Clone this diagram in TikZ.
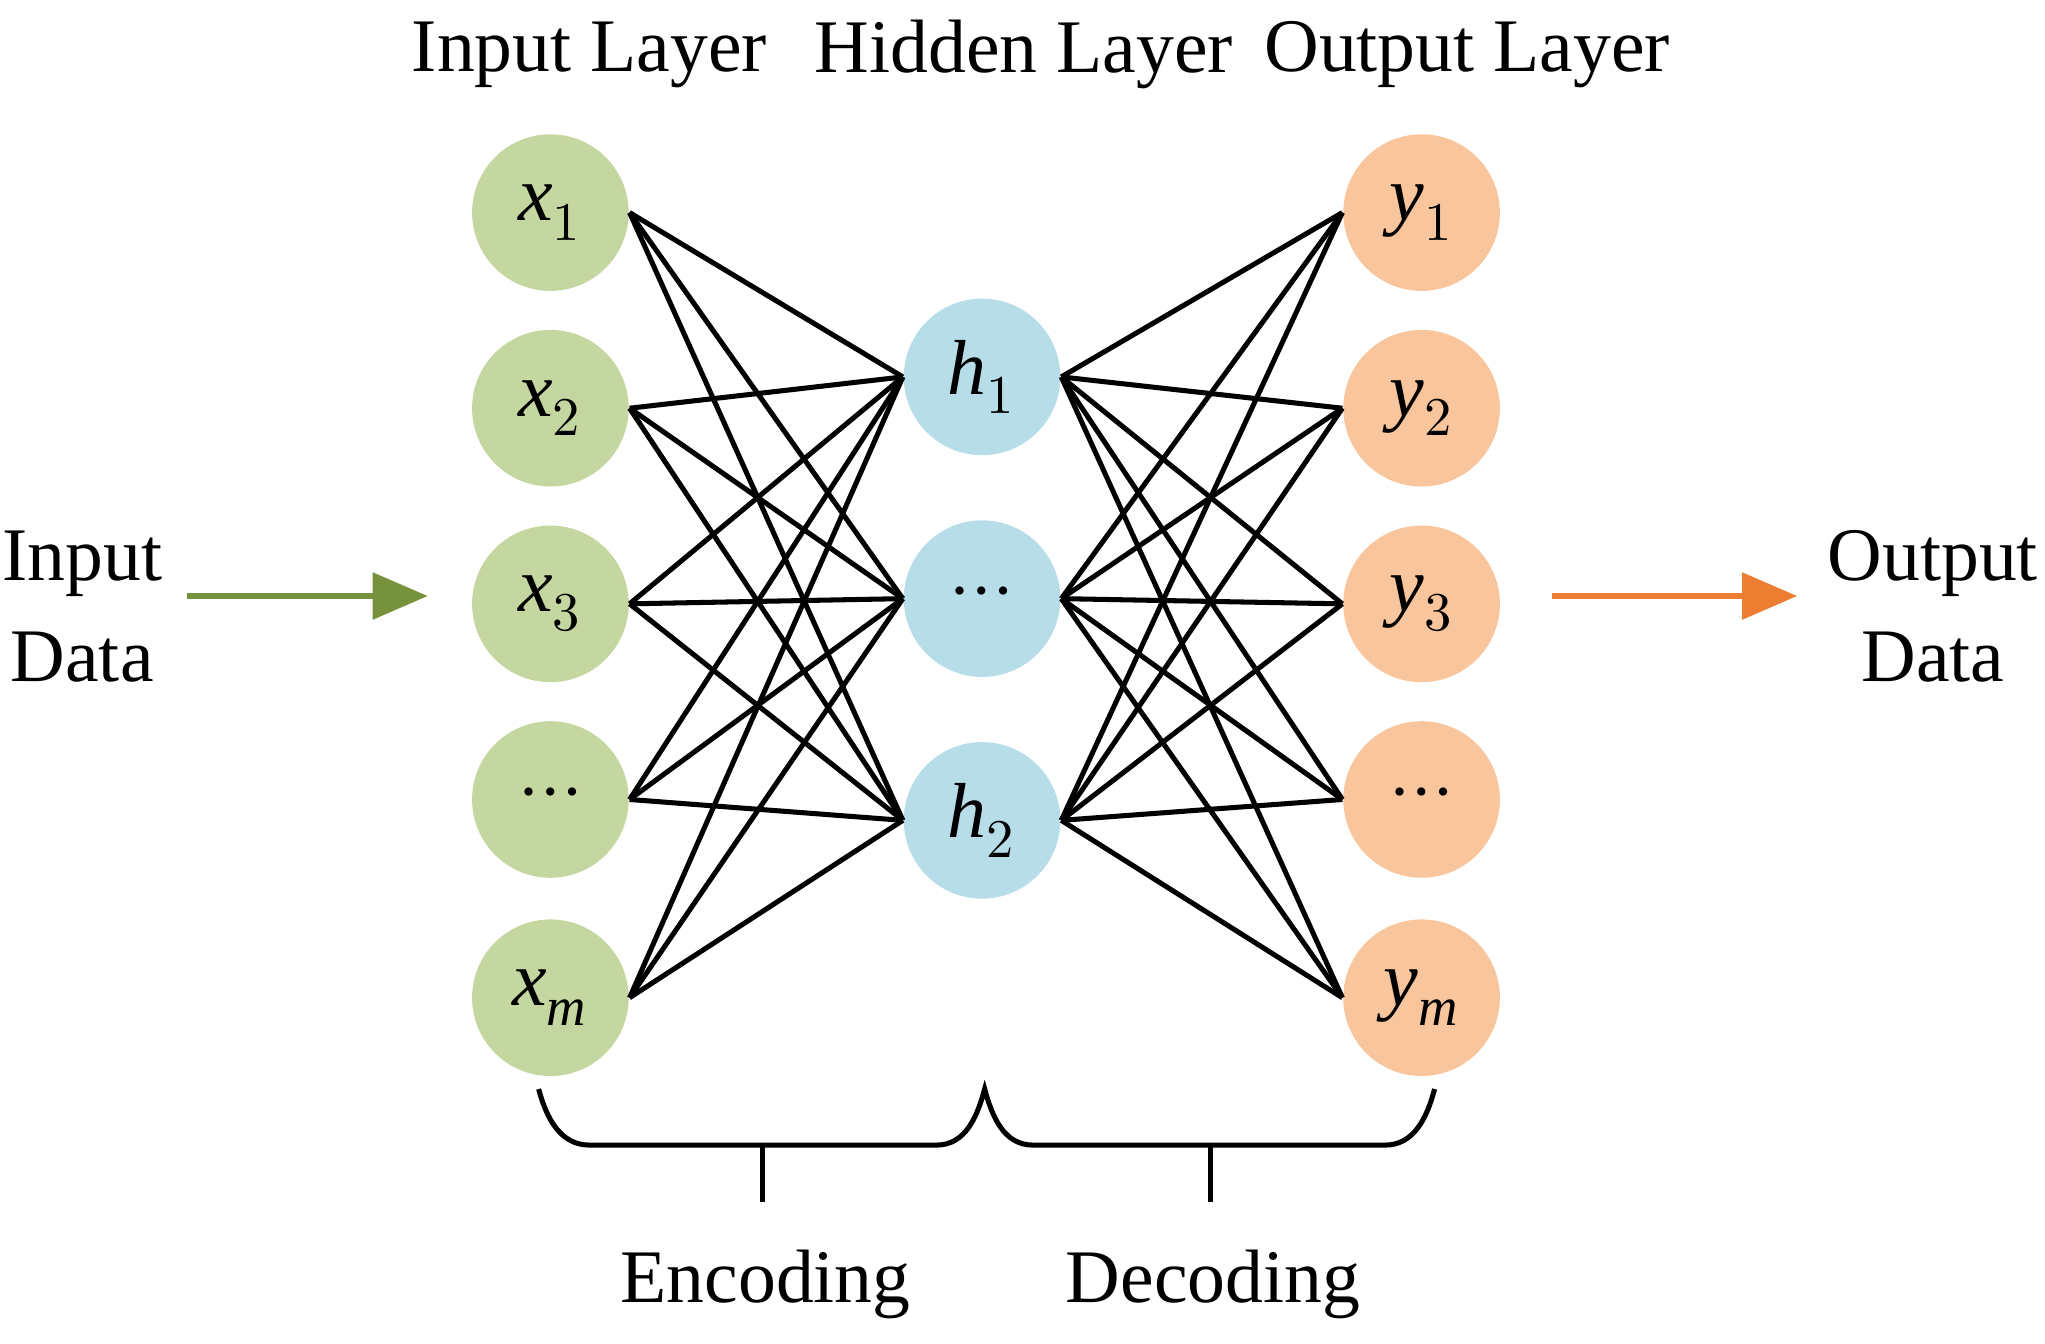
\documentclass[tikz,border=0pt]{standalone}
\usepackage{fontspec}
\setmainfont{Liberation Serif}
\usepackage{unicode-math}
\setmathfont{Latin Modern Math}
\setmathfont[range={it/{latin,Latin}}]{Liberation Serif Italic}
\usetikzlibrary{arrows.meta}
\definecolor{ing}{HTML}{C5D7A0}
\definecolor{hid}{HTML}{B7DDE8}
\definecolor{outc}{HTML}{F8C59C}
\definecolor{garr}{HTML}{76923C}
\definecolor{oarr}{HTML}{ED7D31}
\begin{document}
\begin{tikzpicture}[x=0.01cm,y=-0.01cm,
  neuron/.style={circle,minimum size=1.2cm,inner sep=0pt,font=\fontsize{17}{20}\selectfont},
  lbl/.style={font=\fontsize{16.5}{22}\selectfont,align=center},
  conn/.style={line width=1.1pt},
  flow/.style={line width=1.3pt,-{Triangle[length=12pt,width=10pt]}}]
\useasboundingbox (0,0) rectangle (1568,1030);
\foreach \i/\y/\t in {1/163/x_1,2/313/x_2,3/463/x_3,4/613/\cdots,5/765/x_m}
  \node[neuron,fill=ing] (i\i) at (422,\y) {$\t$};
\foreach \i/\y/\t in {1/163/y_1,2/313/y_2,3/463/y_3,4/613/\cdots,5/765/y_m}
  \node[neuron,fill=outc] (o\i) at (1090,\y) {$\t$};
\foreach \i/\y/\t in {1/289/h_1,2/459/\cdots,3/629/h_2}
  \node[neuron,fill=hid] (h\i) at (753,\y) {$\t$};
\foreach \i in {1,...,5}\foreach \j in {1,2,3}{
  \draw[conn] (i\i.east) -- (h\j.west);
  \draw[conn] (h\j.east) -- (o\i.west);}
\node[lbl] (t1) at (452,42) {Input Layer};
\node[lbl] (t2) at (785,42) {Hidden Layer};
\node[lbl] (t3) at (1125,42) {Output Layer};
\node[lbl] (ind) at (63,465) {Input\\Data};
\node[lbl] (outd) at (1482,465) {Output\\Data};
\coordinate (ga) at (143,457); \coordinate (gb) at (328,457);
\coordinate (oa) at (1190,457); \coordinate (ob) at (1378,457);
\draw[flow,garr] (ga) -- (gb);
\draw[flow,oarr] (oa) -- (ob);
\coordinate (b1) at (413,835); \coordinate (b2) at (755,835); \coordinate (b3) at (1100,835);
\draw[conn] (b1) to[out=-75,in=180] (452,878) -- (718,878) to[out=0,in=-105] (b2)
  to[out=-75,in=180] (792,878) -- (1062,878) to[out=0,in=-105] (b3);
\coordinate (e1) at (585,878); \coordinate (e2) at (585,922);
\coordinate (d1) at (928,878); \coordinate (d2) at (928,922);
\draw[conn] (e1) -- (e2); \draw[conn] (d1) -- (d2);
\node[lbl] (enc) at (587,985) {Encoding};
\node[lbl] (dec) at (930,985) {Decoding};
\end{tikzpicture}
\end{document}
